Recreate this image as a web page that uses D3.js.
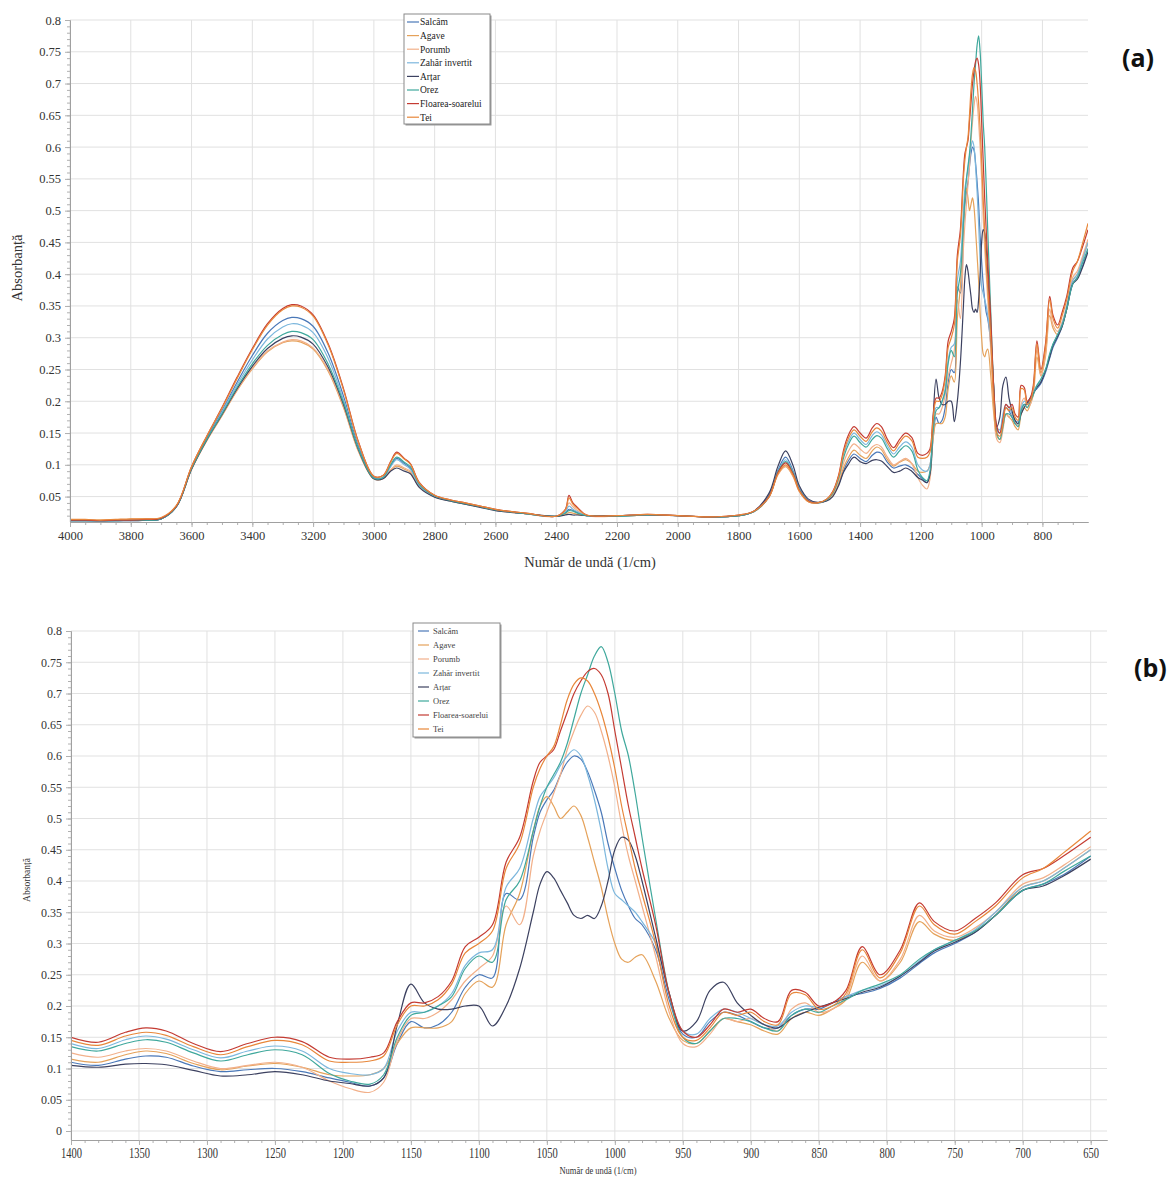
<!DOCTYPE html>
<html>
<head>
<meta charset="utf-8">
<script src="https://cdn.jsdelivr.net/npm/d3@7"></script>
<style>
  body { margin: 0; background: #fff; }
  svg { display: block; }
  text { font-family: "Liberation Serif", "Times New Roman", serif; }
</style>
</head>
<body>
<svg id="chart" width="1169" height="1177"></svg>
<script>
// Wavenumber grid (1/cm), descending; coarse above 1400, finer in the fingerprint region
const wavenumbers = [
  4000,3950,3900,3850,3800,3750,3700,3650,3600,3550,
  3500,3450,3400,3350,3300,3270,3240,3200,3150,3100,
  3050,3000,2970,2945,2925,2900,2880,2850,2800,2750,
  2700,2650,2600,2500,2400,2370,2358,2345,2330,2300,
  2200,2100,2000,1900,1800,1750,1700,1670,1645,1620,
  1600,1570,1540,1510,1490,1470,1455,1440,1420,
  1400,1380,1360,1345,1330,1310,1290,1270,1250,1230,
  1210,1195,1180,1170,1160,1150,1140,1130,1120,1110,
  1100,1090,1080,1070,1060,1055,1050,1045,1040,1035,
  1030,1025,1020,1015,1010,1005,1000,995,990,985,
  980,970,960,950,940,930,920,910,900,890,
  880,870,860,850,840,830,818,805,790,776,
  765,750,735,720,700,685,670,650
];

// Absorbance per sample, same order as wavenumbers
const salcam = [
  .012,.012,.012,.012,.013,.013,.015,.034,.095,.142,
  .185,.230,.272,.307,.327,.332,.330,.318,.275,.208,
  .128,.080,.080,.098,.110,.102,.095,.068,.050,.044,
  .039,.034,.029,.023,.019,.024,.030,.028,.025,.020,
  .020,.021,.020,.018,.020,.026,.052,.092,.112,.090,
  .063,.044,.040,.044,.052,.070,.090,.105,.117,
  .110,.105,.115,.120,.118,.104,.095,.098,.100,.095,
  .085,.078,.072,.085,.140,.175,.165,.170,.190,.230,
  .250,.245,.380,.370,.470,.510,.530,.545,.570,.590,
  .600,.595,.575,.545,.510,.460,.420,.385,.360,.340,
  .330,.290,.210,.155,.150,.175,.190,.185,.175,.165,
  .165,.185,.195,.195,.205,.215,.220,.228,.245,.268,
  .285,.300,.318,.345,.385,.395,.410,.440
];
const agave = [
  .013,.013,.013,.013,.014,.015,.016,.035,.093,.138,
  .177,.217,.251,.278,.292,.295,.293,.282,.247,.190,
  .120,.078,.078,.091,.098,.093,.088,.065,.050,.043,
  .038,.034,.029,.023,.019,.022,.025,.024,.022,.020,
  .019,.021,.020,.018,.020,.026,.049,.085,.097,.081,
  .058,.042,.040,.044,.052,.072,.095,.110,.123,
  .115,.110,.122,.128,.124,.108,.098,.104,.108,.102,
  .090,.088,.090,.100,.140,.165,.165,.165,.175,.220,
  .240,.230,.330,.380,.480,.520,.535,.520,.500,.510,
  .520,.505,.470,.430,.390,.340,.300,.275,.270,.278,
  .282,.240,.180,.145,.140,.160,.180,.175,.170,.160,
  .155,.180,.190,.185,.195,.210,.270,.240,.270,.335,
  .315,.305,.320,.345,.390,.400,.420,.450
];
const porumb = [
  .013,.013,.012,.013,.014,.014,.016,.035,.093,.138,
  .178,.218,.252,.279,.293,.297,.295,.284,.249,.192,
  .121,.078,.079,.092,.100,.095,.090,.066,.050,.044,
  .039,.034,.029,.023,.019,.028,.040,.034,.028,.020,
  .019,.021,.020,.018,.020,.026,.049,.085,.098,.082,
  .058,.042,.040,.045,.053,.076,.102,.120,.133,
  .125,.118,.128,.132,.128,.112,.100,.105,.110,.102,
  .080,.068,.062,.078,.145,.180,.180,.190,.210,.240,
  .260,.280,.360,.330,.440,.480,.510,.540,.570,.610,
  .640,.665,.680,.670,.640,.600,.550,.490,.440,.400,
  .360,.280,.190,.140,.135,.155,.180,.175,.180,.170,
  .160,.195,.205,.190,.195,.215,.280,.240,.275,.345,
  .320,.310,.325,.350,.395,.405,.425,.455
];
const zaharInvertit = [
  .012,.012,.011,.012,.012,.013,.015,.034,.094,.140,
  .183,.226,.265,.298,.317,.322,.320,.308,.267,.202,
  .125,.079,.079,.097,.108,.100,.093,.067,.050,.043,
  .038,.034,.029,.023,.019,.026,.035,.030,.026,.020,
  .019,.021,.020,.018,.020,.026,.050,.090,.108,.088,
  .062,.043,.040,.045,.056,.082,.115,.135,.150,
  .140,.132,.146,.152,.147,.130,.117,.128,.136,.128,
  .100,.092,.090,.100,.160,.190,.190,.200,.220,.265,
  .285,.290,.390,.420,.500,.535,.550,.565,.585,.600,
  .610,.600,.570,.530,.480,.420,.380,.370,.360,.350,
  .335,.300,.220,.160,.155,.180,.195,.190,.180,.170,
  .168,.190,.200,.198,.205,.215,.225,.232,.248,.272,
  .290,.305,.322,.350,.390,.400,.420,.450
];
const artar = [
  .012,.012,.012,.012,.012,.013,.015,.034,.093,.139,
  .179,.220,.255,.283,.299,.303,.301,.290,.253,.195,
  .123,.078,.078,.090,.095,.090,.086,.064,.049,.043,
  .038,.033,.028,.023,.019,.021,.022,.021,.021,.020,
  .020,.021,.020,.018,.020,.027,.055,.098,.122,.098,
  .067,.046,.041,.043,.050,.068,.088,.100,.112,
  .105,.102,.107,.108,.106,.097,.088,.090,.095,.090,
  .080,.076,.072,.085,.170,.235,.205,.195,.195,.200,
  .200,.168,.200,.260,.350,.395,.415,.405,.385,.365,
  .345,.340,.345,.340,.360,.400,.450,.470,.465,.440,
  .400,.310,.220,.160,.175,.225,.238,.205,.185,.170,
  .165,.180,.190,.198,.205,.212,.222,.230,.248,.270,
  .288,.302,.318,.345,.385,.392,.408,.435
];
const orez = [
  .012,.012,.012,.012,.013,.013,.015,.034,.094,.140,
  .180,.222,.259,.288,.305,.310,.308,.297,.258,.198,
  .124,.079,.080,.100,.112,.104,.097,.069,.051,.044,
  .039,.034,.029,.023,.019,.024,.028,.027,.024,.020,
  .019,.021,.020,.018,.020,.026,.050,.089,.105,.087,
  .061,.043,.040,.045,.055,.080,.110,.130,.145,
  .135,.128,.140,.146,.142,.125,.112,.122,.130,.122,
  .092,.080,.075,.090,.150,.185,.190,.200,.215,.260,
  .280,.270,.370,.400,.480,.520,.550,.570,.590,.620,
  .660,.700,.730,.760,.775,.750,.700,.640,.600,.540,
  .470,.340,.220,.150,.140,.160,.180,.180,.175,.165,
  .160,.185,.195,.190,.200,.210,.225,.235,.250,.275,
  .290,.305,.320,.345,.385,.395,.415,.440
];
const floareaSoarelui = [
  .013,.013,.012,.013,.013,.014,.016,.035,.097,.145,
  .190,.238,.283,.322,.346,.352,.350,.336,.290,.220,
  .135,.082,.083,.105,.120,.110,.102,.072,.052,.045,
  .040,.035,.030,.024,.019,.030,.052,.040,.033,.021,
  .020,.022,.020,.018,.021,.027,.050,.088,.103,.085,
  .060,.043,.040,.046,.058,.085,.122,.145,.160,
  .150,.142,.158,.165,.160,.140,.127,.140,.150,.143,
  .118,.115,.118,.125,.175,.205,.205,.215,.240,.295,
  .310,.330,.430,.470,.560,.590,.600,.610,.640,.670,
  .700,.720,.735,.740,.730,.700,.640,.580,.520,.470,
  .420,.330,.220,.160,.150,.170,.195,.190,.195,.180,
  .175,.225,.222,.200,.205,.225,.295,.250,.290,.365,
  .335,.320,.340,.365,.410,.420,.440,.470
];
const tei = [
  .014,.014,.013,.014,.015,.015,.017,.036,.097,.145,
  .189,.236,.281,.320,.344,.350,.348,.334,.288,.218,
  .134,.082,.083,.104,.118,.109,.101,.071,.052,.045,
  .040,.035,.030,.024,.019,.029,.048,.038,.031,.021,
  .020,.022,.020,.018,.021,.027,.049,.086,.100,.083,
  .059,.042,.040,.046,.057,.083,.118,.140,.155,
  .145,.137,.152,.158,.153,.135,.122,.135,.145,.138,
  .112,.110,.112,.120,.170,.200,.200,.210,.235,.285,
  .300,.320,.420,.460,.550,.580,.600,.615,.650,.690,
  .715,.725,.720,.700,.670,.630,.580,.520,.470,.420,
  .380,.300,.200,.150,.145,.165,.190,.185,.190,.175,
  .170,.220,.218,.195,.200,.220,.290,.245,.285,.360,
  .330,.315,.335,.360,.405,.420,.445,.480
];

const seriesNames = ["Salcâm", "Agave", "Porumb", "Zahăr invertit", "Arțar", "Orez", "Floarea-soarelui", "Tei"];
const seriesValues = [salcam, agave, porumb, zaharInvertit, artar, orez, floareaSoarelui, tei];
const seriesColors = ["#4a78b8", "#e5a25a", "#f2b08a", "#7cb7dd", "#3c4160", "#3fa89c", "#c43b32", "#e8873a"];

// Axis ticks
const xTicksA = [4000,3800,3600,3400,3200,3000,2800,2600,2400,2200,2000,1800,1600,1400,1200,1000,800];
const yTicksA = [0.05,0.1,0.15,0.2,0.25,0.3,0.35,0.4,0.45,0.5,0.55,0.6,0.65,0.7,0.75,0.8];
const xTicksB = [1400,1350,1300,1250,1200,1150,1100,1050,1000,950,900,850,800,750,700,650];
const yTicksB = [0,0.05,0.1,0.15,0.2,0.25,0.3,0.35,0.4,0.45,0.5,0.55,0.6,0.65,0.7,0.75,0.8];

const svg = d3.select("#chart");
const fmt = v => String(+v.toFixed(2));

function drawPanel(o) {
  const g = svg.append("g");
  const [xl, xr] = o.x.range();
  const [yb, yt] = o.y.range();

  // grid
  g.append("g").selectAll("line").data(o.xTicks).join("line")
    .attr("x1", d => o.x(d)).attr("x2", d => o.x(d))
    .attr("y1", yt).attr("y2", yb)
    .attr("stroke", "#e1e1e1").attr("stroke-width", 1);
  g.append("g").selectAll("line").data(o.yTicks).join("line")
    .attr("x1", xl).attr("x2", xr)
    .attr("y1", d => o.y(d)).attr("y2", d => o.y(d))
    .attr("stroke", "#e1e1e1").attr("stroke-width", 1);

  // spectra
  const clipId = o.id + "-clip";
  svg.append("clipPath").attr("id", clipId).append("rect")
    .attr("x", xl).attr("y", yt - 2).attr("width", xr - xl).attr("height", yb - yt + 2);
  const line = d3.line()
    .x(d => o.x(d[0])).y(d => o.y(d[1]))
    .curve(d3.curveCatmullRom.alpha(0.5));
  const lines = g.append("g").attr("clip-path", `url(#${clipId})`);
  seriesValues.forEach((vals, i) => {
    const pts = wavenumbers.map((w, j) => [w, vals[j]])
      .filter(p => p[0] <= o.wMax && p[0] >= o.wMin);
    lines.append("path").attr("d", line(pts))
      .attr("fill", "none").attr("stroke", seriesColors[i])
      .attr("stroke-width", 1.2).attr("stroke-linejoin", "round");
  });

  // axes
  const axX = g.append("g").attr("transform", `translate(0,${yb})`);
  axX.call(d3.axisBottom(o.x).tickValues(o.xMinor).tickFormat("").tickSize(3).tickSizeOuter(0));
  const axXMaj = g.append("g").attr("transform", `translate(0,${yb})`)
    .call(d3.axisBottom(o.x).tickValues(o.xTicks).tickFormat(d => d).tickSize(5).tickSizeOuter(0));
  const axY = g.append("g").attr("transform", `translate(${xl},0)`);
  axY.call(d3.axisLeft(o.y).tickValues(o.yMinor).tickFormat("").tickSize(3).tickSizeOuter(0));
  const axYMaj = g.append("g").attr("transform", `translate(${xl},0)`)
    .call(d3.axisLeft(o.y).tickValues(o.yTicks).tickFormat(fmt).tickSize(5).tickSizeOuter(0));

  [axX, axXMaj, axY, axYMaj].forEach(a => {
    a.select(".domain").attr("stroke", "#a0a0a0");
    a.selectAll(".tick line").attr("stroke", "#b0b0b0");
  });
  axXMaj.selectAll(".tick text").attr("fill", "#333").attr("font-size", o.xFont)
    .attr("font-family", "Liberation Serif").attr("dy", null).attr("y", o.xLabelDy);
  axYMaj.selectAll(".tick text").attr("fill", "#333").attr("font-size", o.yFont)
    .attr("font-family", "Liberation Serif").attr("x", -9);
  if (o.xSqueeze) {
    axXMaj.selectAll(".tick text")
      .attr("transform", `scale(${o.xSqueeze},1)`);
  }

  // axis titles
  g.append("text").attr("text-anchor", "middle").attr("fill", "#333")
    .attr("font-size", o.titleFont)
    .attr("transform", `translate(${o.titleX},${o.titleY}) scale(${o.titleSqueeze},1)`)
    .text("Număr de undă (1/cm)");
  g.append("text").attr("text-anchor", "middle").attr("fill", "#333")
    .attr("font-size", o.yTitleFont)
    .attr("transform", `translate(${o.yTitleX},${o.yTitleY}) rotate(-90)`)
    .text("Absorbanță");

  // legend
  const L = o.legend;
  const lg = g.append("g").attr("transform", `translate(${L.x},${L.y})`);
  lg.append("rect").attr("x", 1.5).attr("y", 1.5).attr("width", L.w).attr("height", L.h)
    .attr("fill", "#9a9a9a");
  lg.append("rect").attr("width", L.w).attr("height", L.h)
    .attr("fill", "#fff").attr("stroke", "#8a8a8a").attr("stroke-width", 1);
  seriesNames.forEach((name, i) => {
    const yy = L.pad + i * L.step;
    lg.append("line").attr("x1", L.lx1).attr("x2", L.lx2).attr("y1", yy).attr("y2", yy)
      .attr("stroke", seriesColors[i]).attr("stroke-width", 1.2);
    lg.append("text").attr("x", L.tx).attr("y", yy).attr("dy", "0.35em")
      .attr("font-size", L.font).attr("fill", L.textColor).text(name);
  });

  // panel tag
  svg.append("text").attr("x", o.tagX).attr("y", o.tagY)
    .attr("font-weight", "bold").attr("font-size", 25).attr("fill", "#111")
    .style("font-family", "'Open Sans', sans-serif")
    .text(o.tag);
}

// Panel (a): full spectrum
drawPanel({
  id: "pa",
  x: d3.scaleLinear().domain([4000, 650]).range([70, 1088]),
  y: d3.scaleLinear().domain([0.01, 0.8]).range([522, 20]),
  wMax: 4000, wMin: 650,
  xTicks: xTicksA, yTicks: yTicksA,
  xMinor: d3.range(3950, 650, -50), yMinor: d3.range(0.02, 0.8, 0.01),
  xFont: 12.5, yFont: 12.5, xLabelDy: 18,
  titleFont: 14.5, titleX: 590, titleY: 567, titleSqueeze: 1,
  yTitleFont: 14.5, yTitleX: 22, yTitleY: 268,
  legend: { x: 404, y: 14, w: 86, h: 110, pad: 8, step: 13.6, lx1: 3, lx2: 15, tx: 16, font: 9.5, textColor: "#222" },
  tag: "(a)", tagX: 1122, tagY: 67
});

// Panel (b): fingerprint region
drawPanel({
  id: "pb",
  x: d3.scaleLinear().domain([1400, 638]).range([71, 1107]),
  y: d3.scaleLinear().domain([-0.0144, 0.8]).range([1140, 631]),
  wMax: 1400, wMin: 650,
  xTicks: xTicksB, yTicks: yTicksB,
  xMinor: d3.range(1390, 640, -10), yMinor: d3.range(0.01, 0.8, 0.01),
  xFont: 14, yFont: 12, xLabelDy: 18, xSqueeze: 0.75,
  titleFont: 10, titleX: 598, titleY: 1174, titleSqueeze: 0.85,
  yTitleFont: 9.5, yTitleX: 30, yTitleY: 880,
  legend: { x: 413, y: 623, w: 87, h: 114, pad: 8, step: 14, lx1: 5, lx2: 16, tx: 20, font: 8.5, textColor: "#444" },
  tag: "(b)", tagX: 1134, tagY: 677
});
</script>
</body>
</html>
